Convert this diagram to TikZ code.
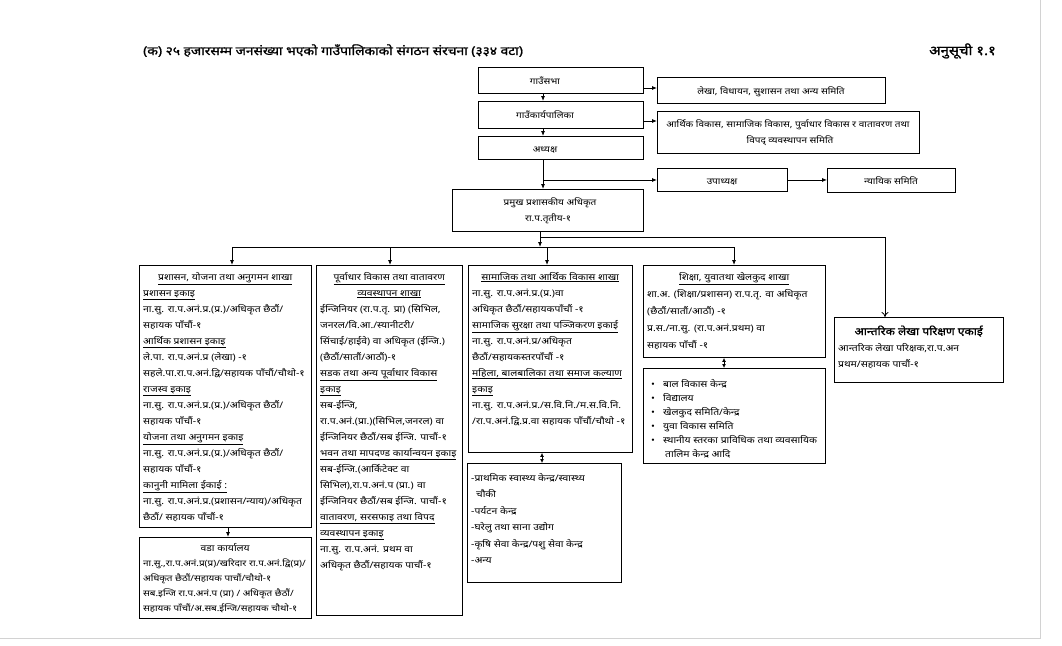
\documentclass[tikz,border=0pt]{standalone}
\usepackage{fontspec}
\setmainfont{Noto Sans}[Script=Devanagari, FakeStretch=1.15]
\newfontfamily\titlefont{Noto Sans}[Script=Devanagari, FakeStretch=1.15, FakeBold=1.3]
\usetikzlibrary{arrows.meta}
\newcommand\cln[2]{\makebox[#1]{#2}\par}
\newcommand\tb[3]{\parbox[t]{300pt}{\fontsize{#1}{#2}\selectfont\lineskip=0pt\lineskiplimit=-30pt\parindent=0pt\parskip=0pt\leftskip=0pt\rightskip=0pt plus 1fil\relax #3}}
\begin{document}
\begin{tikzpicture}[x=1pt,y=-1pt,
  box/.style={draw, line width=0.9pt, inner sep=0pt, anchor=north west},
  txt/.style={inner sep=0pt, anchor=base west},
  ctxt/.style={inner sep=0pt, anchor=base, font=\fontsize{8.7}{10}\selectfont},
  arr/.style={-{Latex[length=5pt,width=4pt]}, line width=0.8pt},
  darr/.style={{Latex[length=4pt,width=4pt]}-{Latex[length=4pt,width=4pt]}, line width=0.8pt},
  oarr/.style={-{To[length=5pt,width=7pt]}, line width=0.8pt},
  ln/.style={line width=0.8pt}]
\useasboundingbox (0,0) rectangle (1062,645);
\draw[gray!35, line width=0.8pt] (1040,0) -- (1040,638) -- (0,638);
% title
\node[txt, font=\fontsize{12}{14}\titlefont] (title) at (143,55) {(क) २५ हजारसम्म जनसंख्या भएको गाउँपालिकाको संगठन संरचना (३३४ वटा)};
\node[txt, font=\fontsize{13}{15}\titlefont] (anusuchi) at (929,55) {अनुसूची १.१};
% top boxes
\node[box, minimum width=165, minimum height=26] (sabha) at (478,67) {};
\node[box, minimum width=165, minimum height=27] (karya) at (478,101) {};
\node[box, minimum width=165, minimum height=23] (adh) at (478,136) {};
\node[box, minimum width=228, minimum height=26] (r1) at (657,77) {};
\node[box, minimum width=262, minimum height=42] (r2) at (657,111) {};
\node[box, minimum width=130, minimum height=23] (upa) at (657,168) {};
\node[box, minimum width=128, minimum height=24] (nyaya) at (827,168) {};
\node[box, minimum width=191, minimum height=42] (pram) at (452,189) {};
\node[ctxt] (tsabha) at (545,84) {गाउँसभा};
\node[ctxt] (tkarya) at (545,118) {गाउँकार्यपालिका};
\node[ctxt] (tadh) at (545,152) {अध्यक्ष};
\node[ctxt] (tr1) at (771,94) {लेखा, विधायन, सुशासन तथा अन्य समिति};
\node[ctxt] (tr2a) at (788,127) {आर्थिक विकास, सामाजिक विकास, पुर्वाधार विकास र वातावरण तथा};
\node[ctxt] (tr2b) at (790,143) {विपद् व्यवस्थापन समिति};
\node[ctxt] (tupa) at (722,184) {उपाध्यक्ष};
\node[ctxt] (tnyaya) at (891,184) {न्यायिक समिति};
\node[ctxt] (tpram) at (550,205) {प्रमुख प्रशासकीय अधिकृत};
\node[ctxt] (tpram2) at (548,221) {रा.प.तृतीय-१};
% top connectors
\draw[arr] (543,93) -- (543,101);
\draw[arr] (543,128) -- (543,136);
\draw[arr] (543,159) -- (543,189);
\coordinate (j1) at (543,180);
\draw[arr] (j1) -- (upa.west|-j1);
\draw[arr] (upa.east) -- (nyaya.west|-upa.east);
\coordinate (s1) at (643,88);
\draw[arr] (s1) -- (r1.west|-s1);
\coordinate (s2) at (643,121);
\draw[arr] (s2) -- (r2.west|-s2);
% lower boxes
\node[box, minimum width=172, minimum height=262] (b1) at (139,265) {};
\node[box, minimum width=172, minimum height=81] (ward) at (139,537) {};
\node[box, minimum width=146, minimum height=350] (b2) at (316,265) {};
\node[box, minimum width=164, minimum height=187] (b3) at (468,265) {};
\node[box, minimum width=154, minimum height=119] (b3l) at (467,463) {};
\node[box, minimum width=182, minimum height=92] (b4) at (643,265) {};
\node[box, minimum width=182, minimum height=95] (b4l) at (643,368) {};
\node[box, minimum width=169, minimum height=65] (b5) at (834,317) {};
% connectors
\coordinate (p0) at (540,231);
\coordinate (p1) at (540,247);
\coordinate (u1) at (540,237);
\coordinate (u2) at (885,237);
\coordinate (hl) at (232,247);
\coordinate (hr) at (734,247);
\draw[arr] (p0) -- (p1);
\draw[ln] (u1) -- (u2);
\draw[ln] (hl) -- (hr);
\draw[arr] (hl) -- (b1.north-|hl);
\draw[arr] (390,247) -- (b2.north-|390,0);
\draw[arr] (547,247) -- (b3.north-|547,0);
\draw[arr] (hr) -- (b4.north-|hr);
\draw[oarr] (u2) -- (b5.north-|u2);
\draw[arr] (b1.south-|228,0) -- (ward.north-|228,0);
\draw[darr] (b3.south-|542,0) -- (b3l.north-|542,0);
\draw[darr] (b4.south-|724,0) -- (b4l.north-|724,0);
% texts
\node[txt] (t1) at (143,280) {\tb{9}{16}{%
\cln{164pt}{\underline{प्रशासन, योजना तथा अनुगमन शाखा}}
\underline{प्रशासन इकाइ}\par
ना.सु. रा.प.अनं.प्र.(प्र.)/अधिकृत छैठौं/\par
सहायक पाँचौं-१\par
\underline{आर्थिक प्रशासन इकाइ}\par
ले.पा. रा.प.अनं.प्र (लेखा) -१\par
सहले.पा.रा.प.अनं.द्वि/सहायक पाँचौं/चौथो-१\par
\underline{राजस्व इकाइ}\par
ना.सु. रा.प.अनं.प्र.(प्र.)/अधिकृत छैठौं/\par
सहायक पाँचौं-१\par
\underline{योजना तथा अनुगमन इकाइ}\par
ना.सु. रा.प.अनं.प्र.(प्र.)/अधिकृत छैठौं/\par
सहायक पाँचौं-१\par
\underline{कानुनी मामिला ईकाई :}\par
ना.सु. रा.प.अनं.प्र.(प्रशासन/न्याय)/अधिकृत\par
छैठौं/ सहायक पाँचौं-१\par}};
\node[txt] (tw) at (143,551) {\tb{8.6}{15}{%
\cln{164pt}{\fontsize{9}{15}\selectfont वडा कार्यालय}
ना.सु.,रा.प.अनं.प्र(प्र)/खरिदार रा.प.अनं.द्वि(प्र)/\par
अधिकृत छैठौं/सहायक पाचौं/चौथो-१\par
सब.इन्जि रा.प.अनं.प (प्रा) / अधिकृत छैठौं/\par
सहायक पाँचौं/अ.सब.ईन्जि/सहायक चौथो-१\par}};
\node[txt] (t2) at (320,280) {\tb{9}{16}{%
\cln{138pt}{\underline{पूर्वाधार विकास तथा वातावरण}}
\cln{138pt}{\underline{व्यवस्थापन शाखा}}
ईन्जिनियर (रा.प.तृ. प्रा) (सिभिल,\par
जनरल/वि.आ./स्यानीटरी/\par
सिंचाई/हाईवे) वा अधिकृत (ईन्जि.)\par
(छैठौं/सातौं/आठौं)-१\par
\underline{सडक तथा अन्य पूर्वाधार विकास}\par
\underline{इकाइ}\par
सब-ईन्जि,\par
रा.प.अनं.(प्रा.)(सिभिल,जनरल) वा\par
ईन्जिनियर छैठौं/सब ईन्जि. पाचौं-१\par
\underline{भवन तथा मापदण्ड कार्यान्वयन इकाइ}\par
सब-ईन्जि.(आर्किटेक्ट वा\par
सिभिल),रा.प.अनं.प (प्रा.) वा\par
ईन्जिनियर छैठौं/सब ईन्जि. पाचौं-१\par
\underline{वातावरण, सरसफाइ तथा विपद}\par
\underline{व्यवस्थापन इकाइ}\par
ना.सु. रा.प.अनं. प्रथम वा\par
अधिकृत छैठौं/सहायक पाचौं-१\par}};
\node[txt] (t3) at (472,280) {\tb{9}{16}{%
\cln{156pt}{\underline{सामाजिक तथा आर्थिक विकास शाखा}}
ना.सु. रा.प.अनं.प्र.(प्र.)वा\par
अधिकृत छैठौं/सहायकपाँचौं -१\par
\underline{सामाजिक सुरक्षा तथा पञ्जिकरण इकाई}\par
ना.सु. रा.प.अनं.प्र/अधिकृत\par
छैठौं/सहायकस्तरपाँचौं -१\par
\underline{महिला, बालबालिका तथा समाज कल्याण}\par
\underline{इकाइ}\par
ना.सु. रा.प.अनं.प्र./स.वि.नि./म.स.वि.नि.\par
/रा.प.अनं.द्वि.प्र.वा सहायक पाँचौं/चौथो -१\par}};
\node[txt] (t3l) at (471,481) {\tb{9}{16.5}{%
-प्राथमिक स्वास्थ्य केन्द्र/स्वास्थ्य\par
\hspace*{5pt}चौकी\par
-पर्यटन केन्द्र\par
-घरेलु तथा साना उद्योग\par
-कृषि सेवा केन्द्र/पशु सेवा केन्द्र\par
-अन्य\par}};
\node[txt] (t4) at (647,280) {\tb{9}{17}{%
\cln{174pt}{\underline{शिक्षा, युवातथा खेलकुद शाखा}}
शा.अ. (शिक्षा/प्रशासन) रा.प.तृ. वा अधिकृत\par
(छैठौं/सातौं/आठौं) -१\par
प्र.स./ना.सु. (रा.प.अनं.प्रथम) वा\par
सहायक पाँचौं -१\par}};
\node[txt] (t4l) at (651,387) {\tb{9}{14}{%
•\hspace{8pt}बाल विकास केन्द्र\par
•\hspace{8pt}विद्यालय\par
•\hspace{8pt}खेलकुद समिति/केन्द्र\par
•\hspace{8pt}युवा विकास समिति\par
•\hspace{8pt}स्थानीय स्तरका प्राविधिक तथा व्यवसायिक\par
\hspace*{14pt}तालिम केन्द्र आदि\par}};
\node[txt] (t5) at (838,335) {\tb{9}{16}{%
\cln{161pt}{\fontsize{10.5}{16}\titlefont आन्तरिक लेखा परिक्षण एकाई}
आन्तरिक लेखा परिक्षक,रा.प.अन\par
प्रथम/सहायक पाचौं-१\par}};
\end{tikzpicture}
\end{document}
